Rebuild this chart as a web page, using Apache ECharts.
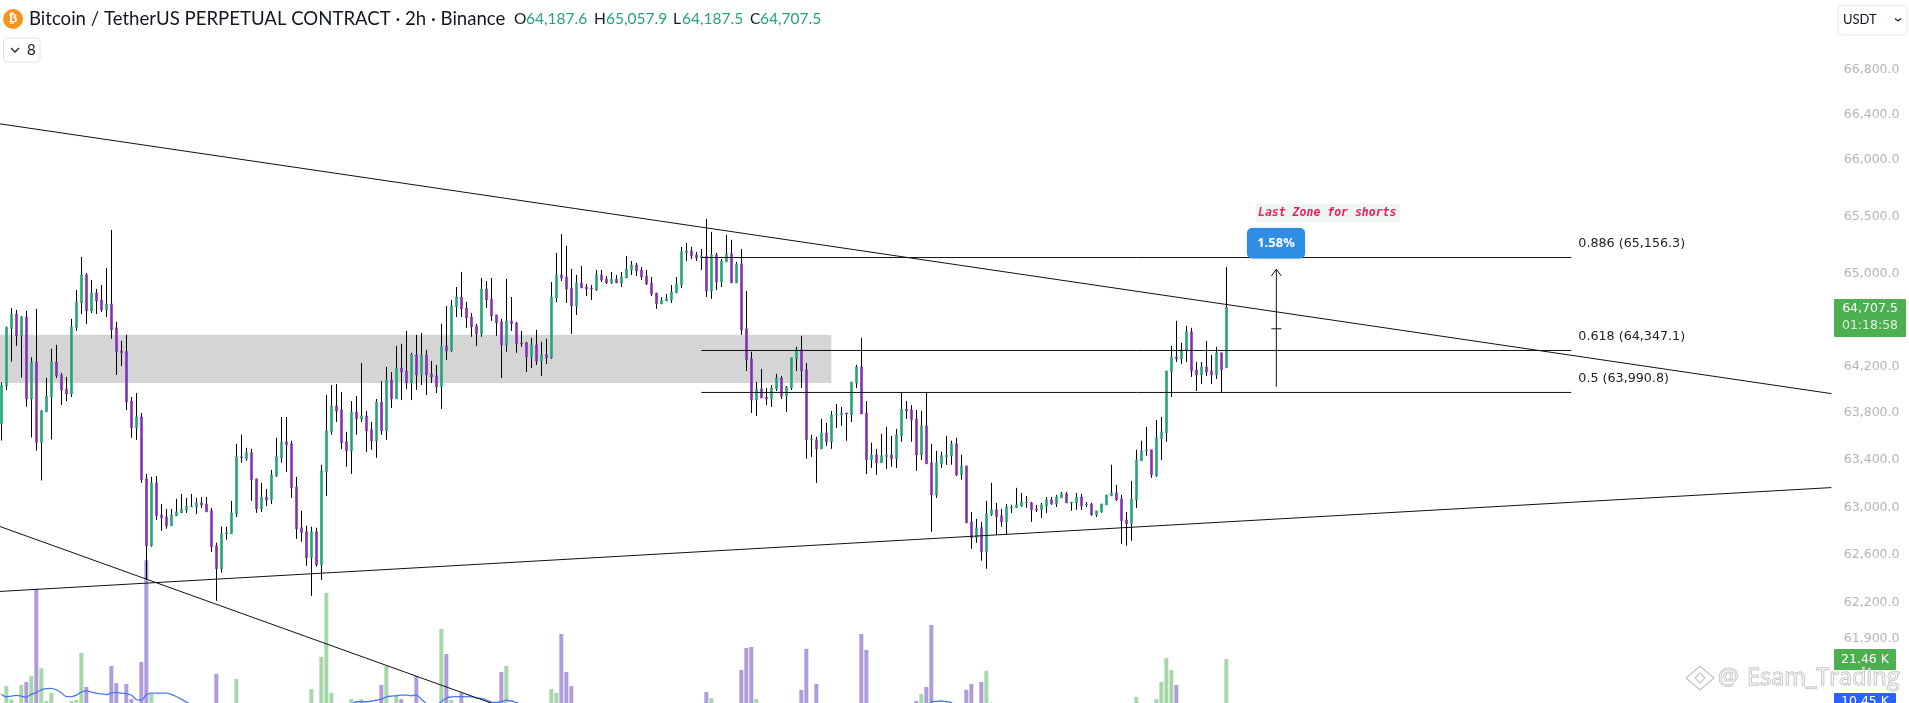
<!DOCTYPE html>
<html><head><meta charset="utf-8">
<style>html,body{margin:0;padding:0;background:#fff;overflow:hidden}#c{width:1909px;height:703px}</style>
<script src="https://cdn.jsdelivr.net/npm/echarts@6/dist/echarts.min.js"></script>
</head><body><div id="c"></div>
<script>
const opens=[63707,64034,64525,64651,64462,64625,63920,64238,63549,63809,
63937,64238,64126,64006,63963,64531,64746,64990,64677,64833,
64772,64686,64738,64531,64333,64325,63902,63674,63767,63241,
62678,63207,62937,62920,62845,62929,62954,62979,63004,63004,
63038,63029,62971,62678,62485,62778,62778,62945,63428,63411,
63462,63241,62987,63088,63063,63266,63419,63555,63538,63173,
62829,62795,62577,62795,62518,63300,63640,63860,63826,63555,
63478,63809,63750,63775,63657,63564,63894,63648,64083,63920,
64186,64160,64057,64299,64126,64299,64135,64118,64023,64376,
64333,64712,64798,64703,64625,64548,64479,64868,64781,64643,
64583,64385,64591,64574,64402,64402,64281,64385,64246,64299,
64273,64789,64990,64972,64876,64720,64920,64885,64876,64859,
64990,64954,64920,64954,64920,64963,65033,65077,65033,64981,
64920,64833,64738,64763,64772,64833,64902,65182,65199,65164,
65138,65155,64850,65164,64928,65103,65173,64920,65085,64523,
64264,63911,64006,63937,63920,64006,64100,63945,64014,64264,
64342,64169,63572,63572,63495,63631,63555,63784,63784,63801,
63784,64057,64195,63801,63402,63445,63377,63428,63445,63411,
63606,63835,63826,63750,63445,63691,63377,63105,63368,63428,
63436,63538,63275,63351,62878,62745,62829,62627,62937,62979,
62929,62878,62996,62996,63012,63038,63038,62987,62979,63012,
63063,63029,63080,63114,63038,63038,63088,63021,63029,62937,
62962,63021,63097,63122,63072,62895,62862,63063,63394,63478,
63487,63266,63581,63631,64152,64281,64264,64333,64497,64169,
64126,64195,64160,64126,64316,64187.6];
const closes=[64040,64534,64651,64462,64625,63920,64238,63549,63818,63945,
64238,64118,63997,63963,64540,64755,64990,64677,64833,64763,
64686,64738,64514,64325,64316,63894,63674,63767,63233,62678,
63207,62929,62912,62845,62937,62962,62987,63012,63012,63038,
63021,62962,62669,62485,62778,62787,62954,63428,63419,63462,
63233,62987,63088,63063,63275,63428,63555,63530,63165,62820,
62787,62577,62795,62518,63309,63648,63860,63818,63547,63478,
63809,63750,63775,63648,63564,63894,63648,64083,63920,64186,
64152,64057,64299,64126,64299,64126,64109,64023,64376,64333,
64720,64798,64695,64617,64540,64479,64868,64772,64634,64574,
64385,64591,64566,64394,64394,64281,64385,64246,64299,64273,
64798,64990,64963,64868,64720,64920,64876,64868,64868,64990,
64946,64920,64954,64920,64972,65042,65077,65024,64972,64911,
64824,64738,64772,64781,64842,64911,65190,65199,65155,65138,
65155,64850,65164,64928,65111,65173,64920,65085,64514,64255,
63911,64006,63928,63920,64014,64100,63945,64023,64273,64342,
64160,63572,63581,63495,63631,63555,63784,63792,63801,63792,
64066,64195,63792,63402,63445,63377,63436,63445,63411,63615,
63835,63818,63741,63445,63691,63368,63105,63377,63436,63445,
63538,63275,63351,62870,62745,62829,62627,62945,62979,62920,
62878,63004,63004,63021,63046,63046,62979,62979,63021,63063,
63029,63088,63114,63038,63046,63088,63012,63029,62937,62971,
63029,63105,63122,63063,62887,62862,63072,63402,63478,63487,
63275,63589,63640,64160,64281,64264,64333,64497,64160,64126,
64195,64152,64126,64316,64169,64707.5];
const lows=[63566,63997,64240,64376,64103,63854,63592,63481,63227,63809,
63575,64100,63869,63902,63937,64505,64651,64566,64660,64651,
64669,64625,64437,64126,64203,63826,63589,63572,63207,62393,
62669,62895,62803,62820,62845,62929,62954,62954,63004,62945,
62996,62962,62627,62217,62452,62728,62778,62920,63377,63394,
63055,62954,62962,63012,63029,63258,63377,63300,63080,62736,
62711,62510,62259,62502,62393,63097,63615,63724,63495,63343,
63283,63615,63724,63470,63487,63419,63615,63572,63843,63920,
63911,64006,63911,63997,64040,63954,64057,63971,63835,64255,
64325,64625,64625,64531,64454,64376,64454,64703,64591,64462,
64100,64325,64505,64316,64368,64152,64186,64212,64118,64221,
64264,64755,64937,64746,64479,64643,64876,64807,64772,64850,
64928,64911,64911,64920,64885,64963,64990,64981,64946,64902,
64807,64695,64738,64763,64746,64833,64876,65111,65129,65111,
65033,64798,64781,64859,64885,65103,64920,64920,64471,64160,
63801,63775,63928,63869,63852,63988,63920,63809,63997,64160,
64014,63411,63428,63207,63495,63521,63495,63674,63691,63564,
63724,64014,63792,63283,63334,63275,63377,63326,63343,63334,
63555,63750,63555,63309,63402,63368,62795,63080,63334,63360,
63360,63266,63233,62870,62652,62703,62552,62485,62929,62770,
62837,62770,62954,62996,63004,62996,62878,62962,62912,62954,
63021,63004,63080,63038,62971,62979,62979,63004,62929,62920,
62954,63021,63097,63055,62694,62678,62720,62996,63394,63436,
63250,63258,63402,63555,63937,64238,64221,64238,64109,63988,
64049,64118,64049,64092,63980,64187.5];
const highs=[64063,64542,64701,64686,64634,64677,64278,64695,63826,64100,
64351,64385,64143,64109,64609,64859,65146,65007,64946,64868,
64902,65050,65382,64583,64419,64471,63937,63971,63801,63283,
63258,63266,63029,62987,62987,63072,63114,63080,63114,63080,
63088,63088,62996,62703,62837,62837,63055,63538,63615,63504,
63495,63241,63207,63156,63317,63589,63767,63767,63564,63258,
62971,62845,62837,62829,63360,63954,64040,64049,63980,63640,
63902,63945,64229,63818,63724,63920,64075,64195,64152,64376,
64394,64505,64316,64471,64488,64342,64246,64212,64566,64720,
64772,64885,65016,64755,64660,64566,64963,64937,64963,64643,
64609,64954,64798,64583,64505,64411,64445,64514,64411,64437,
64928,65182,65347,65243,65042,64990,65068,64911,64902,65033,
65033,64981,65016,64990,65016,65155,65111,65094,65059,65033,
64972,64833,64798,64824,64902,64972,65234,65269,65234,65190,
65216,65478,65365,65182,65129,65339,65295,65103,65216,64850,
64325,64066,64178,64014,64040,64135,64118,64031,64273,64368,
64462,64229,63615,63598,63750,63716,63818,63877,63852,63801,
64066,64212,64445,63902,63547,63495,63623,63682,63606,63665,
63971,63902,63869,63826,63818,63971,63538,63478,63470,63606,
63564,63589,63445,63351,62962,62903,62878,63055,63207,63038,
62987,63029,63021,63165,63122,63097,63046,63021,63038,63088,
63088,63105,63131,63131,63046,63122,63114,63046,63038,62971,
63029,63105,63360,63190,63105,62962,63224,63487,63564,63682,
63487,63741,63767,64160,64376,64591,64402,64548,64531,64238,
64238,64419,64299,64368,64316,65057.9];
const volumes=[7,14.2,10.6,7,14.5,15.3,16.9,40.3,19,10.2,
12.4,7,7,7,10.2,10.5,23.1,14,7,7,
7,7,19.6,15,7,14.8,10.7,7,20.7,48,
12.1,7,7,7,7,7,7,7,7,7,
7,7,7,17.5,7,7,7,16.1,7,7,
7,7,7,7,7,7,7,7,7,7,
7,7,13.4,7,22,39.2,12.4,7,7,7,
10.7,7,10.7,7,7,7,14.5,19.6,7,11.8,
10.7,7,7,16.9,7,7,7,7,29.5,22.8,
10.5,7,12.4,7,7,7,7,7,7,7,
18,19.6,7,7,7,7,7,7,7,7,
13.4,12.4,28.2,18,14.2,7,7,7,7,7,
7,7,7,7,7,7,7,7,7,7,
7,7,7,7,7,7,7,7,7,7,
7,12.6,11,7,7,7,7,7,18.5,24.4,
24.7,10.7,7,7,7,7,7,7,7,7,
13.2,24.2,7,14.8,7,7,7,7,7,7,
7,7,28.2,23.9,7,7,7,7,7,7,
7,7,7,10.2,12.1,14,30.6,7,7,7,
7,7,7,13.2,14.8,7,15.3,18.3,7,7,
7,7,7,7,7,7,7,7,7,7,
7,7,7,7,7,7,7,7,7,7,
7,7,7,7,7,7,7,11.3,7,7,
7,10.7,15.3,21.7,18.5,14.5,7,7,7,7,
7,7,7,7,7,21.46];
const volumeMA=[12,11.3,11.5,11.7,11.5,11.2,12,12.5,13.2,13.5,
13.6,13.2,12.4,11.4,11.4,11.8,12.6,12.9,12.6,12.3,
12.1,11.9,12.3,12.5,12.3,12.2,11.8,10.6,10.4,11.9,
12.3,12.3,12.3,12.3,12,11.4,10.7,9.9,9.2,8,
8,8,8,8,8,8,8,8,8,8,
8,8,8,8,8,8,8,8,8,8,
8,8,8,8,8,8,8,8,8,8,
9.3,10,10,10,10.2,10.4,10.7,11.3,11.5,11.6,
11.8,11.8,11.6,11.8,10.7,9.5,9,9.3,10,11,
11.3,11.4,11.4,11.4,11.3,11,10.9,10.5,9.9,9.8,
10,10.4,10.2,9.8,9.2,8,8,8,8,8,
8,8,8,8,8,8,8,8,8,8,
8,8,8,8,8,8,8,8,8,8,
8,8,8,8,8,8,8,8,8,8,
8,8,8,8,8,8,8,8,8,8,
8,8,8,8,8,8,8,8,8,8,
8,8,8,8,8,8,8,8,8,8,
8,8,8,8,8,8,8,8,8,8,
8,8,8,8,8,8,9.9,10.1,10.2,10,
9.8,8,8,8,8,8,8,9,9.6,9,
8,8,8,8,8,8,8,8,8,8,
8,8,8,8,8,8,8,8,8,8,
8,8,8,8,8,8,8,8,8,8,
8,8,8,8,8,8,8,8,8,8,
8,8,8,8,8,8];
const priceTicks=[66800,66400,66000,65500,65000,64200,63800,63400,63000,62600,62200,61900];
const trendUpper=[[0,66321],[367,63966]];
const trendLower=[[0,62294],[367,63167]];
const trendSteep=[[0,62850],[111,61195]];
const zoneTop=64471, zoneBottom=64057, zoneEndSlot=167;
const fibLevels=[65141,64336,63976];
const fibLabels=['0.886 (65,156.3)','0.618 (64,347.1)','0.5 (63,990.8)'];
const fibSlots=[141,315];
const arrowSlots=[255,256,257];
const arrowLow=64025, arrowHigh=65039, arrowWing=64980, arrowMid=64523;
const SLOTS=368;
const categories=Array.from({length:SLOTS},(_,i)=>i);

const GREEN='#24a27b',PURPLE='#8230b4',VG='#a7d7a9',VP='#ae9cdb';
const idx=opens.map((_,k)=>k+1);
const wicks=idx.map((s,k)=>[s,opens[k],closes[k],lows[k],highs[k]]);
const bodies=idx.map((s,k)=>[s,opens[k],closes[k],Math.min(opens[k],closes[k]),Math.max(opens[k],closes[k])]);
const volData=idx.map((s,k)=>({value:[s,volumes[k]],itemStyle:{color:closes[k]>=opens[k]?VG:VP}}));
const maData=idx.map((s,k)=>[s,volumeMA[k]]);
const blackLine=(data,extra)=>Object.assign({type:'line',xAxisIndex:0,yAxisIndex:0,data,symbol:'none',silent:true,z:6,
  lineStyle:{color:'#111',width:1}},extra||{});
const fmt=v=>Number(v).toLocaleString('en-US',{minimumFractionDigits:1,maximumFractionDigits:1});

const fibSeries=fibLevels.map((v,i)=>blackLine([[fibSlots[0],v],[fibSlots[1],v]],{
  endLabel:{show:true,formatter:()=>fibLabels[i],color:'#222',fontFamily:'DejaVu Sans',fontSize:12.7,offset:[-1,-14],align:'left'}
}));

const T=(x,y,text,font,fill,extra)=>({type:'text',silent:true,z:50,style:Object.assign({x,y,text,font,fill,textVerticalAlign:'middle',textBaseline:'middle'},extra||{})});
const R=(x,y,w,h,fill,r,stroke,extra)=>({type:'rect',silent:true,z:49,shape:{x,y,width:w,height:h,r:r||0},style:Object.assign({fill,stroke:stroke||null},extra||{})});
const P=(pts,stroke,w)=>({type:'polyline',silent:true,z:50,shape:{points:pts},style:{stroke,lineWidth:w||1.2,fill:null}});
const HF='Lato';
const graphics=[
 {type:'circle',silent:true,z:49,shape:{cx:13,cy:19,r:10},style:{fill:'#f7931a'}},
 T(13,19,'₿','bold 13px "DejaVu Sans"','#fff',{textAlign:'center'}),
 T(29,19,'Bitcoin / TetherUS PERPETUAL CONTRACT · 2h · Binance','18.6px '+HF,'#131722'),
 T(514,19,'O','15.5px '+HF,'#131722'),T(526,19,'64,187.6','15.5px '+HF,GREEN),
 T(594,19,'H','15.5px '+HF,'#131722'),T(606,19,'65,057.9','15.5px '+HF,GREEN),
 T(673,19,'L','15.5px '+HF,'#131722'),T(682,19,'64,187.5','15.5px '+HF,GREEN),
 T(750,19,'C','15.5px '+HF,'#131722'),T(760,19,'64,707.5','15.5px '+HF,GREEN),
 R(3.5,38,36.5,24,'#fff',3,'#dfe1e6'),
 P([[11,48],[15,52],[19,48]],'#222',1.3),
 T(27,50,'8','15px '+HF,'#131722'),
 R(1838,5.5,69,29.5,'#fff',4,'#e6e8ec'),
 T(1843,20,'USDT','13px '+HF,'#131722'),
 P([[1895,18.5],[1898,21],[1901,18.5]],'#222',1.2),
 R(1834,299,72,38,'#4caf50',1),
 T(1870,308.5,'64,707.5','12.5px "DejaVu Sans"','#fff',{textAlign:'center'}),
 T(1870,326,'01:18:58','12.5px "DejaVu Sans"','#dff0df',{textAlign:'center'}),
 R(1834,649,62,21,'#4caf50',1),
 T(1865,660,'21.46 K','12.5px "DejaVu Sans"','#fff',{textAlign:'center'}),
 R(1834,693,62,12,'#2962ff',1),
 T(1865,702,'10.45 K','12.5px "DejaVu Sans"','#fff',{textAlign:'center'}),
 R(1256,204,144,18,'#eef5f1'),
 T(1258,213,'Last Zone for shorts','italic bold 11.5px "DejaVu Sans Mono"','#e91e63'),
 R(1247,228,58,30.5,'#2f8de4',5,null,{shadowBlur:3,shadowColor:'rgba(0,0,0,.18)'}),
 T(1276,243,'1.58%','bold 13px "Open Sans"','#fff',{textAlign:'center'}),
 {type:'polygon',silent:true,z:51,shape:{points:[[1700,666],[1714,678],[1700,690],[1686,678]]},style:{fill:'rgba(255,255,255,.5)',stroke:'#c4c4c4',lineWidth:1.2}},
 {type:'polygon',silent:true,z:51,shape:{points:[[1700,673],[1705,678],[1700,683],[1695,678]]},style:{fill:'rgba(255,255,255,.5)',stroke:'#c4c4c4',lineWidth:1.2}},
 T(1718,678,'@','23px "Open Sans"','rgba(255,255,255,.55)',{stroke:'#b5b5b5',lineWidth:1,z:52}),
 T(1747,678,'Esam_Trading','23.5px "Open Sans"','rgba(255,255,255,.55)',{stroke:'#b0b0b0',lineWidth:1})
];

const chart=echarts.init(document.getElementById('c'),null,{renderer:'canvas',width:1909,height:703});
chart.setOption({
 animation:false,backgroundColor:'#fff',
 grid:[{left:-6.17,top:0,width:1840,height:740,outerBoundsMode:'none',containLabel:false},
       {left:-6.17,top:400,width:1840,height:339,outerBoundsMode:'none',containLabel:false}],
 xAxis:[{type:'category',data:categories,gridIndex:0,show:false,boundaryGap:true},
        {type:'category',data:categories,gridIndex:1,show:false,boundaryGap:true}],
 yAxis:[{type:'log',gridIndex:0,position:'right',min:61070,max:67424,splitLine:{show:false},axisLine:{show:false},axisTick:{show:false},
   axisLabel:{show:true,customValues:priceTicks,margin:10,color:'#b4b4b4',fontFamily:'DejaVu Sans',fontSize:12.5,formatter:fmt,showMinLabel:true,showMaxLabel:true}},
  {type:'value',gridIndex:1,min:0,max:91,show:false}],
 graphic:graphics,
 series:[
  {type:'bar',xAxisIndex:1,yAxisIndex:1,data:volData,barWidth:4,silent:true,z:1},
  {type:'line',xAxisIndex:1,yAxisIndex:1,data:maData,symbol:'none',smooth:0.3,silent:true,z:2,lineStyle:{color:'#4a78ee',width:1.3}},
  {type:'line',xAxisIndex:0,yAxisIndex:0,data:[],silent:true,
   markArea:{silent:true,itemStyle:{color:'#d5d5d5'},data:[[{xAxis:0,yAxis:zoneTop},{xAxis:zoneEndSlot,yAxis:zoneBottom}]]},z:0},
  {type:'candlestick',xAxisIndex:0,yAxisIndex:0,data:wicks,encode:{x:0,y:[1,2,3,4]},barWidth:0,silent:true,z:3,
   itemStyle:{color:'#000',color0:'#000',borderColor:'#000',borderColor0:'#000',borderColorDoji:'#000',borderWidth:1}},
  {type:'candlestick',xAxisIndex:0,yAxisIndex:0,data:bodies,encode:{x:0,y:[1,2,3,4]},barWidth:2.6,silent:true,z:4,
   itemStyle:{color:GREEN,color0:PURPLE,borderColor:GREEN,borderColor0:PURPLE,borderColorDoji:GREEN,borderWidth:0.6}},
  blackLine(trendUpper),blackLine(trendLower),blackLine(trendSteep),
  ...fibSeries,
  blackLine([[arrowSlots[1],arrowLow],[arrowSlots[1],arrowHigh]]),
  blackLine([[arrowSlots[0],arrowWing],[arrowSlots[1],arrowHigh],[arrowSlots[2],arrowWing]]),
  blackLine([[arrowSlots[0],arrowMid],[arrowSlots[2],arrowMid]])
 ]
});
</script></body></html>
